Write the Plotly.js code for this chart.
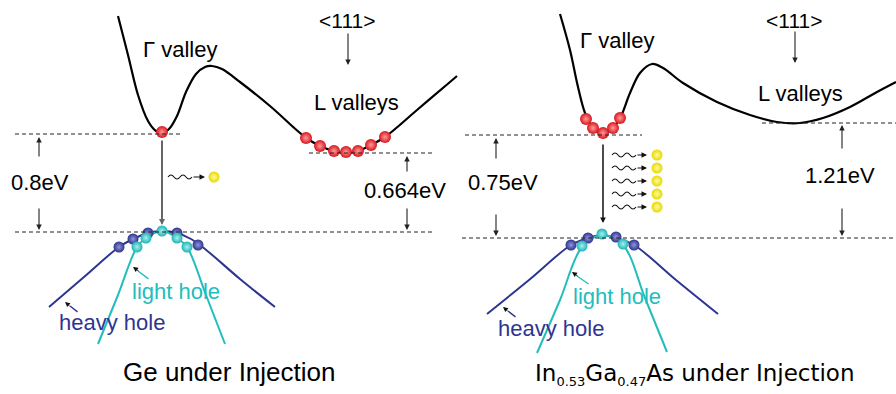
<!DOCTYPE html>
<html>
<head>
<meta charset="utf-8">
<script src="https://cdn.plot.ly/plotly-3.0.1.min.js"></script>
<style>
  html, body { margin: 0; padding: 0; background: #fff; }
  #chart { width: 896px; height: 394px; }
</style>
</head>
<body>
<div id="chart"></div>
<script>
// Diagram units: x runs along k-space, y is energy drawn downward (screen-like units).

// ---- Ge ----
const geCondX = [118, 128, 138, 148, 156, 162, 169, 177, 186, 196, 205, 212, 222, 240, 270, 305, 320, 334, 346, 358, 371, 385, 417, 450, 457];
const geCondY = [16, 55, 95, 121, 131, 133, 129, 116, 92, 74, 67, 66, 69, 82, 106, 137, 146, 151, 153, 151, 145, 137, 110, 82, 76];
const geHeavyX = [49, 84, 119, 133, 148, 162, 177, 191, 205, 240, 275];
const geHeavyY = [307, 277, 247, 239, 233, 231, 233, 239, 249, 279, 307];
const geLightX = [98, 118, 137, 146, 162, 177, 187, 206, 225];
const geLightY = [344, 295, 247, 238, 231, 238, 247, 295, 344];
const geElecX = [162, 306, 320, 334, 346, 358, 371, 385];
const geElecY = [132, 138, 146, 151, 152, 151, 145, 137];
const geHoleHeavyX = [119, 133, 148, 177, 198];
const geHoleHeavyY = [247, 239, 233, 233, 245];
const geHoleLightX = [137, 146, 162, 177, 187];
const geHoleLightY = [247, 238, 231, 238, 247];
const gePhotonY = [177];
// band-edge levels: Γ minimum, L minimum, valence top
const geLevels = [134, 153, 232];
const geGapLabels = ['0.8eV', '0.664eV'];
const geTitle = 'Ge under Injection';

// ---- In0.53Ga0.47As ----
const gaCondX = [560, 570, 578, 585, 593, 603, 613, 621, 630, 640, 652, 663, 683, 717, 750, 777, 800, 823, 850, 877, 896];
const gaCondY = [14, 50, 87, 113, 128, 134, 128, 116, 93, 73, 64, 68, 83, 102, 115, 122, 123, 118, 107, 92, 82];
const gaHeavyX = [487, 529, 571, 588, 602, 616, 634, 676, 718];
const gaHeavyY = [314, 280, 245, 238, 235, 238, 245, 280, 314];
const gaLightX = [537, 560, 582, 602, 623, 645, 667];
const gaLightY = [353, 300, 247, 235, 245, 298, 352];
const gaElecX = [586, 593, 603, 613, 620];
const gaElecY = [119, 128, 133, 128, 118];
const gaHoleHeavyX = [571, 588, 616, 634];
const gaHoleHeavyY = [245, 238, 237, 245];
const gaHoleLightX = [582, 602, 623];
const gaHoleLightY = [246, 234, 244];
const gaPhotonY = [155, 168, 181, 194, 207];
const gaLevels = [135, 123, 238];
const gaGapLabels = ['0.75eV', '1.21eV'];
const gaTitle = 'In<sub><span style="font-size:13px">0.53</span></sub>Ga<sub><span style="font-size:13px">0.47</span></sub>As under Injection';

// ---- styling ----
const BLACK = '#000000';
const HH_COLOR = '#2e3590';
const LH_COLOR = '#22bdbd';
const SANS = 'Liberation Sans, Arial, sans-serif';

function band(x, y, color, width) {
  return { x: x, y: y, mode: 'lines', type: 'scatter', hoverinfo: 'skip', cliponaxis: false,
           line: { color: color, width: width, shape: 'spline', smoothing: 1 } };
}
function balls(x, y, edge, center, size) {
  return { x: x, y: y, mode: 'markers', type: 'scatter', hoverinfo: 'skip', cliponaxis: false,
           marker: { size: size, color: edge, line: { width: 0 },
                     gradient: { type: 'radial', color: center } } };
}

// photon sources sit beside the radiative-transition arrow
const gePhotonX = 214, gaPhotonX = 657;
const geWaveX = 168, gaWaveX = 612;

const traces = [
  band(geCondX, geCondY, BLACK, 2.2),
  band(gaCondX, gaCondY, BLACK, 2.2),
  band(geHeavyX, geHeavyY, HH_COLOR, 2),
  band(gaHeavyX, gaHeavyY, HH_COLOR, 2),
  band(geLightX, geLightY, LH_COLOR, 2),
  band(gaLightX, gaLightY, LH_COLOR, 2),
  balls(geHoleHeavyX, geHoleHeavyY, '#2f3488', '#8f95e0', 11),
  balls(gaHoleHeavyX, gaHoleHeavyY, '#2f3488', '#8f95e0', 11),
  balls(geHoleLightX, geHoleLightY, '#1fb3b3', '#a8f0f0', 11),
  balls(gaHoleLightX, gaHoleLightY, '#1fb3b3', '#a8f0f0', 11),
  balls(geElecX, geElecY, '#d8151d', '#ff9a9a', 12),
  balls(gaElecX, gaElecY, '#d8151d', '#ff9a9a', 12),
  balls(gePhotonY.map(() => gePhotonX), gePhotonY, '#e8d800', '#fffca0', 11),
  balls(gaPhotonY.map(() => gaPhotonX), gaPhotonY, '#e8d800', '#fffca0', 11)
];

const shapes = [];
function dashed(x0, x1, y) {
  shapes.push({ type: 'line', xref: 'x', yref: 'y', x0: x0, x1: x1, y0: y, y1: y,
                line: { color: '#222', width: 1, dash: '4px,3px' } });
}
dashed(15, 183, geLevels[0]);
dashed(309, 432, geLevels[1]);
dashed(15, 432, geLevels[2]);
dashed(465, 642, gaLevels[0]);
dashed(762, 896, gaLevels[1]);
dashed(462, 896, gaLevels[2]);

// wavy photon stroke built from smooth quadratic humps
function wave(x0, y, half, humps) {
  let p = 'M ' + x0 + ',' + y + ' Q ' + (x0 + half / 2) + ',' + (y - 4) + ' ' + (x0 + half) + ',' + y;
  for (let i = 2; i <= humps; i++) p += ' T ' + (x0 + half * i) + ',' + y;
  shapes.push({ type: 'path', xref: 'x', yref: 'y', path: p, line: { color: '#111', width: 1.1 } });
  return x0 + half * humps;
}

const annotations = [];
function arrow(tailX, tailY, tipX, tipY, color, width, head, size) {
  annotations.push({ x: tipX, y: tipY, ax: tailX, ay: tailY, xref: 'x', yref: 'y', axref: 'x', ayref: 'y',
                     text: '', showarrow: true, arrowhead: head === undefined ? 2 : head,
                     arrowsize: size || 1, arrowwidth: width, arrowcolor: color, standoff: 0, startstandoff: 0 });
}
function label(text, x, y, size, color, family) {
  annotations.push({ text: text, x: x, y: y, xref: 'x', yref: 'y', showarrow: false,
                     xanchor: 'center', yanchor: 'middle',
                     font: { family: family || SANS, size: size, color: color || BLACK } });
}

gePhotonY.forEach(y => { const e = wave(geWaveX, y, 6, 4); arrow(e, y, gePhotonX - 9, y, '#111', 1.1, 2); });
gaPhotonY.forEach(y => { const e = wave(gaWaveX, y, 6, 4); arrow(e, y, gaPhotonX - 10, y, '#111', 1.1, 2); });

// Ge annotations
arrow(348, 32, 348, 65, '#222', 1.1);
arrow(39, 158, 39, geLevels[0] + 3, '#222', 1.1);
arrow(39, 207, 39, geLevels[2] - 2, '#222', 1.1);
arrow(407, 173, 407, geLevels[1] + 3, '#222', 1.1);
arrow(407, 207, 407, geLevels[2] - 2, '#222', 1.1);
arrow(162, 139, 162, 225, '#666', 2, 2, 0.6);
arrow(150, 280, 138, 271, LH_COLOR, 1.4, 0);
arrow(140, 272, 133, 267, '#111', 1, 2);
arrow(79, 313, 70, 306, HH_COLOR, 1.4, 0);
arrow(71, 307, 65, 302, '#111', 1, 2);

label('Γ valley', 180, 49, 22);
label('&lt;111&gt;', 347, 20, 21);
label('L valleys', 356, 102, 22);
label(geGapLabels[0], 40, 182, 22);
label(geGapLabels[1], 405, 190, 22);
label('light hole', 176, 291, 22, LH_COLOR);
label('heavy hole', 112, 322, 22, HH_COLOR);
label(geTitle, 229, 372, 26);

// In0.53Ga0.47As annotations
arrow(795, 30, 795, 63, '#222', 1.1);
arrow(496, 160, 496, gaLevels[0] + 3, '#222', 1.1);
arrow(496, 213, 496, gaLevels[2] - 2, '#222', 1.1);
arrow(842, 150, 842, gaLevels[1] + 2, '#222', 1.1);
arrow(842, 207, 842, gaLevels[2] - 2, '#222', 1.1);
arrow(603, 143, 603, 223, '#111', 1.5, 2, 0.75);
arrow(590, 285, 577, 276, LH_COLOR, 1.4, 0);
arrow(579, 277, 572, 272, '#111', 1, 2);
arrow(517, 318, 508, 311, HH_COLOR, 1.4, 0);
arrow(509, 312, 503, 307, '#111', 1, 2);

label('Γ valley', 617, 40, 22);
label('&lt;111&gt;', 794, 20, 21);
label('L valleys', 800, 93, 22);
label(gaGapLabels[0], 503, 182, 22);
label(gaGapLabels[1], 840, 175, 22);
label('light hole', 617, 296, 22, LH_COLOR);
label('heavy hole', 551, 328, 22, HH_COLOR);
label(gaTitle, 695, 374, 23, BLACK, 'DejaVu Sans, sans-serif');

const layout = {
  width: 896, height: 394,
  margin: { l: 0, r: 0, t: 0, b: 0, pad: 0 },
  paper_bgcolor: '#ffffff', plot_bgcolor: '#ffffff',
  showlegend: false,
  xaxis: { range: [0, 896], visible: false, fixedrange: true },
  yaxis: { range: [394, 0], visible: false, fixedrange: true },
  shapes: shapes,
  annotations: annotations
};

Plotly.newPlot('chart', traces, layout, { staticPlot: true, displayModeBar: false });
</script>
</body>
</html>
